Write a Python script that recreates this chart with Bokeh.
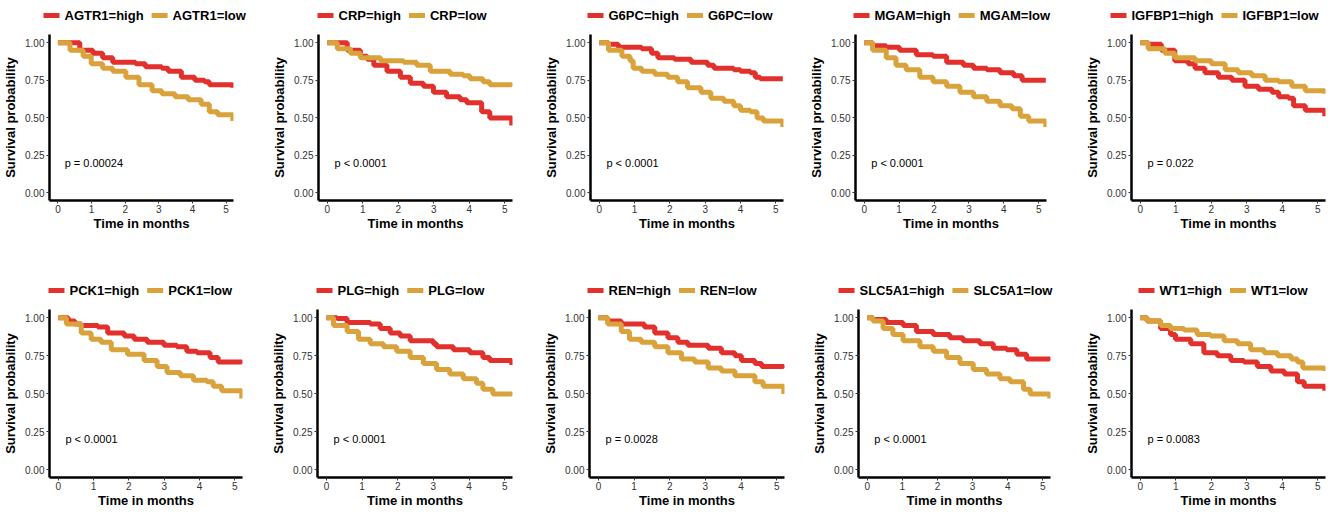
from bokeh.plotting import figure
from bokeh.layouts import column, row
from bokeh.models import Label, FixedTicker, NumeralTickFormatter, Range1d
from bokeh.core.properties import value
from bokeh.embed import file_html
from bokeh.resources import INLINE

# ---------------- data ----------------
genes = ["AGTR1", "CRP", "G6PC", "MGAM", "IGFBP1", "PCK1", "PLG", "REN", "SLC5A1", "WT1"]
pvals = ["p = 0.00024", "p < 0.0001", "p < 0.0001", "p < 0.0001", "p = 0.022",
         "p < 0.0001", "p < 0.0001", "p = 0.0028", "p < 0.0001", "p = 0.0083"]
x_ticks = [0, 1, 2, 3, 4, 5]
y_ticks = [0.0, 0.25, 0.5, 0.75, 1.0]

agtr1_high_t = [0, 0.65, 1.04, 1.33, 1.63, 2.31, 2.6, 3.09, 3.28, 3.67, 4.07, 4.36, 4.5, 5.2]
agtr1_high_s = [1, 0.95, 0.93, 0.90, 0.87, 0.86, 0.84, 0.83, 0.81, 0.77, 0.75, 0.74, 0.72, 0.70]
agtr1_low_t = [0, 0.36, 0.75, 0.99, 1.33, 1.63, 2.02, 2.41, 2.8, 3.09, 3.48, 3.87, 4.26, 4.5, 4.75, 5.2]
agtr1_low_s = [1, 0.95, 0.91, 0.86, 0.83, 0.81, 0.77, 0.72, 0.68, 0.66, 0.64, 0.62, 0.59, 0.54, 0.52, 0.48]

crp_high_t = [0, 0.56, 0.93, 1.12, 1.31, 1.68, 2.06, 2.34, 2.71, 2.99, 3.36, 3.74, 3.93, 4.35, 4.58, 5.2]
crp_high_s = [1, 0.95, 0.91, 0.89, 0.85, 0.81, 0.77, 0.73, 0.71, 0.67, 0.64, 0.62, 0.60, 0.54, 0.50, 0.45]
crp_low_t = [0, 0.28, 0.65, 0.93, 1.5, 2.15, 2.52, 2.9, 3.46, 3.83, 4.02, 4.39, 4.58, 5.2]
crp_low_s = [1, 0.96, 0.93, 0.90, 0.88, 0.87, 0.85, 0.81, 0.79, 0.78, 0.76, 0.74, 0.72, 0.71]

g6pc_high_t = [0, 0.26, 0.54, 1.2, 1.48, 1.66, 2.13, 2.6, 3.07, 3.25, 3.81, 4.0, 4.28, 4.42, 4.56, 5.2]
g6pc_high_s = [1, 0.99, 0.97, 0.96, 0.93, 0.90, 0.89, 0.87, 0.85, 0.83, 0.82, 0.81, 0.80, 0.77, 0.76, 0.76]
g6pc_low_t = [0, 0.26, 0.64, 0.87, 0.96, 1.2, 1.57, 1.94, 2.22, 2.5, 2.88, 3.16, 3.53, 3.81, 4.0, 4.28, 4.47, 4.65, 5.2]
g6pc_low_s = [1, 0.95, 0.91, 0.88, 0.83, 0.81, 0.79, 0.77, 0.74, 0.70, 0.67, 0.63, 0.61, 0.58, 0.55, 0.54, 0.50, 0.48, 0.44]

mgam_high_t = [0, 0.24, 0.63, 1.01, 1.49, 1.97, 2.36, 2.84, 3.13, 3.51, 3.89, 4.28, 4.52, 5.2]
mgam_high_s = [1, 0.98, 0.97, 0.95, 0.92, 0.91, 0.87, 0.85, 0.83, 0.82, 0.80, 0.78, 0.75, 0.75]
mgam_low_t = [0, 0.24, 0.63, 0.91, 1.2, 1.59, 1.97, 2.36, 2.74, 3.13, 3.51, 3.89, 4.23, 4.47, 4.71, 5.2]
mgam_low_s = [1, 0.95, 0.90, 0.85, 0.82, 0.77, 0.74, 0.71, 0.67, 0.64, 0.61, 0.58, 0.56, 0.51, 0.48, 0.44]

igfbp1_high_t = [0, 0.22, 0.59, 0.97, 1.35, 1.54, 1.82, 2.2, 2.58, 2.95, 3.33, 3.71, 3.9, 4.18, 4.32, 4.65, 5.2]
igfbp1_high_s = [1, 0.99, 0.95, 0.88, 0.86, 0.83, 0.80, 0.77, 0.75, 0.71, 0.69, 0.67, 0.64, 0.63, 0.58, 0.55, 0.51]
igfbp1_low_t = [0, 0.22, 0.69, 0.97, 1.54, 2.0, 2.39, 2.76, 3.14, 3.52, 3.9, 4.27, 4.65, 5.2]
igfbp1_low_s = [1, 0.96, 0.93, 0.90, 0.88, 0.86, 0.82, 0.80, 0.78, 0.75, 0.74, 0.71, 0.68, 0.66]

pck1_high_t = [0, 0.28, 0.47, 0.65, 1.12, 1.4, 1.87, 2.15, 2.52, 2.99, 3.36, 3.64, 3.93, 4.3, 4.53, 5.2]
pck1_high_s = [1, 0.98, 0.96, 0.95, 0.94, 0.90, 0.88, 0.86, 0.84, 0.82, 0.81, 0.78, 0.77, 0.74, 0.71, 0.70]
pck1_low_t = [0, 0.23, 0.65, 0.93, 1.21, 1.5, 1.96, 2.43, 2.8, 3.08, 3.46, 3.83, 4.21, 4.39, 4.63, 5.2]
pck1_low_s = [1, 0.96, 0.90, 0.86, 0.84, 0.79, 0.76, 0.72, 0.68, 0.64, 0.62, 0.59, 0.58, 0.55, 0.52, 0.47]

plg_high_t = [0, 0.3, 0.58, 1.23, 1.51, 1.79, 2.07, 2.35, 3.0, 3.09, 3.56, 4.02, 4.39, 4.58, 5.2]
plg_high_s = [1, 0.995, 0.97, 0.96, 0.93, 0.90, 0.88, 0.85, 0.83, 0.81, 0.79, 0.77, 0.74, 0.72, 0.69]
plg_low_t = [0, 0.2, 0.58, 0.9, 1.23, 1.6, 1.97, 2.35, 2.72, 3.09, 3.46, 3.84, 4.21, 4.39, 4.67, 5.2]
plg_low_s = [1, 0.95, 0.91, 0.86, 0.83, 0.81, 0.78, 0.74, 0.70, 0.66, 0.63, 0.60, 0.57, 0.53, 0.50, 0.49]

ren_high_t = [0, 0.26, 0.64, 1.29, 1.58, 1.95, 2.23, 2.51, 3.08, 3.45, 3.83, 4.01, 4.39, 4.58, 5.2]
ren_high_s = [1, 0.98, 0.96, 0.94, 0.90, 0.87, 0.84, 0.82, 0.80, 0.77, 0.75, 0.72, 0.70, 0.68, 0.67]
ren_low_t = [0, 0.26, 0.64, 0.87, 1.2, 1.58, 1.95, 2.33, 2.7, 3.08, 3.45, 3.83, 4.39, 4.62, 5.2]
ren_low_s = [1, 0.96, 0.91, 0.86, 0.84, 0.81, 0.77, 0.73, 0.71, 0.67, 0.65, 0.62, 0.58, 0.55, 0.50]

slc5a1_high_t = [0, 0.16, 0.54, 1.02, 1.4, 1.88, 2.35, 2.73, 3.21, 3.59, 3.97, 4.26, 4.54, 5.2]
slc5a1_high_s = [1, 0.99, 0.97, 0.95, 0.91, 0.89, 0.87, 0.85, 0.83, 0.80, 0.79, 0.76, 0.73, 0.72]
slc5a1_low_t = [0, 0.16, 0.45, 0.73, 1.02, 1.5, 1.88, 2.26, 2.64, 3.02, 3.4, 3.78, 4.07, 4.45, 4.64, 5.2]
slc5a1_low_s = [1, 0.98, 0.93, 0.89, 0.85, 0.81, 0.78, 0.74, 0.70, 0.66, 0.63, 0.60, 0.58, 0.53, 0.50, 0.47]

wt1_high_t = [0, 0.19, 0.57, 0.85, 0.99, 1.42, 1.79, 2.17, 2.55, 2.92, 3.3, 3.68, 4.06, 4.43, 4.62, 5.2]
wt1_high_s = [1, 0.98, 0.93, 0.89, 0.86, 0.83, 0.77, 0.75, 0.72, 0.71, 0.68, 0.65, 0.63, 0.58, 0.55, 0.52]
wt1_low_t = [0, 0.19, 0.57, 0.85, 1.23, 1.6, 1.98, 2.36, 2.74, 3.11, 3.49, 3.87, 4.25, 4.43, 4.58, 5.2]
wt1_low_s = [1, 0.98, 0.95, 0.93, 0.92, 0.89, 0.88, 0.85, 0.83, 0.79, 0.77, 0.75, 0.73, 0.71, 0.67, 0.65]

curves = [
    (agtr1_high_t, agtr1_high_s, agtr1_low_t, agtr1_low_s),
    (crp_high_t, crp_high_s, crp_low_t, crp_low_s),
    (g6pc_high_t, g6pc_high_s, g6pc_low_t, g6pc_low_s),
    (mgam_high_t, mgam_high_s, mgam_low_t, mgam_low_s),
    (igfbp1_high_t, igfbp1_high_s, igfbp1_low_t, igfbp1_low_s),
    (pck1_high_t, pck1_high_s, pck1_low_t, pck1_low_s),
    (plg_high_t, plg_high_s, plg_low_t, plg_low_s),
    (ren_high_t, ren_high_s, ren_low_t, ren_low_s),
    (slc5a1_high_t, slc5a1_high_s, slc5a1_low_t, slc5a1_low_s),
    (wt1_high_t, wt1_high_s, wt1_low_t, wt1_low_s),
]

# ---------------- style / layout ----------------
RED = "#E2302C"
GOLD = "#D9A23A"
FONT = "Liberation Sans"
LW = 5
LEG_FS = 13
TOTAL_W = 1339

fig_widths = [268, 268, 268, 268, 267]
legend_heights = [28, 44]          # strip holding a row of legends
plot_heights = [229, 214]          # figure holding each survival plot
borders_left = [[45, 50, 54, 51, 59], [49, 48, 53, 54, 59]]
borders_right = [[35, 24, 21, 26, 14], [26, 24, 20, 22, 14]]
borders_top = [6, 8]
borders_bottom = [57, 38]
legend_dx = [-2, -1, -3, -2, -21, -1, 0, -2, -20, 7]
legend_cy = [15, 33]               # legend centre, px below strip top

# Arial/Liberation Sans Bold advance widths (1/1000 em), for laying out the legend
BOLD_W = {"A": 722, "B": 722, "C": 722, "E": 667, "F": 611, "G": 778, "I": 278, "K": 722,
          "L": 611, "M": 833, "N": 722, "P": 667, "R": 722, "S": 667, "T": 611, "W": 944,
          "1": 556, "5": 556, "6": 556, "=": 584, "h": 611, "i": 278, "g": 611,
          "l": 278, "o": 611, "w": 778}


def text_w(s, fs):
    return sum(BOLD_W.get(ch, 600) for ch in s) * fs / 1000.0


def make_legend_strip(r):
    H = legend_heights[r]
    lf = figure(width=TOTAL_W, height=H, x_range=Range1d(0, TOTAL_W), y_range=Range1d(0, H),
                x_axis_type=None, y_axis_type=None,
                output_backend="svg", toolbar_location=None,
                min_border_left=0, min_border_right=0, min_border_top=0, min_border_bottom=0)
    lf.grid.visible = False
    lf.outline_line_color = None
    cy = H - legend_cy[r]
    for c in range(5):
        i = r * 5 + c
        gene = genes[i]
        x = sum(fig_widths[:c]) + borders_left[r][c] + legend_dx[i]
        for lab, col in ((f"{gene}=high", RED), (f"{gene}=low", GOLD)):
            lf.segment(x0=[x], y0=[cy], x1=[x + 16], y1=[cy], line_color=col, line_width=LW)
            lf.text(x=[x + 21], y=[cy], text=[lab], text_baseline="middle", text_align="left",
                    text_font=value(FONT), text_font_style="bold",
                    text_font_size=f"{LEG_FS}px", text_color="black")
            x += 21 + text_w(lab, LEG_FS) + 8
    return lf


def make_panel(i):
    r, c = divmod(i, 5)
    ht, hs, lt, ls = curves[i]
    p = figure(width=fig_widths[c], height=plot_heights[r],
               x_range=Range1d(-0.25, 5.22), y_range=Range1d(-0.05, 1.055),
               output_backend="svg", toolbar_location=None,
               min_border_left=borders_left[r][c], min_border_right=borders_right[r][c],
               min_border_top=borders_top[r], min_border_bottom=borders_bottom[r])
    p.grid.visible = False
    p.outline_line_color = None

    p.step(ht, hs, mode="after", line_color=RED, line_width=LW)
    p.step(lt, ls, mode="after", line_color=GOLD, line_width=LW)

    p.add_layout(Label(x=0.2, y=0.2, text=pvals[i], text_baseline="middle",
                       text_align="left", text_font=FONT, text_font_size="11px",
                       text_color="black"))

    p.xaxis.ticker = FixedTicker(ticks=x_ticks)
    p.yaxis.ticker = FixedTicker(ticks=y_ticks)
    p.yaxis.formatter = NumeralTickFormatter(format="0.00")
    p.xaxis.axis_label = "Time in months"
    p.yaxis.axis_label = "Survival probability"
    for ax in (p.xaxis, p.yaxis):
        ax.axis_line_width = 2.5
        ax.axis_line_color = "black"
        ax.major_tick_line_color = "#333333"
        ax.major_tick_line_width = 1
        ax.major_tick_out = 3
        ax.major_tick_in = 0
        ax.minor_tick_line_color = None
        ax.major_label_text_font = FONT
        ax.major_label_text_font_size = "10px"
        ax.major_label_text_color = "#333333"
        ax.axis_label_text_font = FONT
        ax.axis_label_text_font_style = "bold"
        ax.axis_label_text_font_size = "13px"
        ax.axis_label_text_color = "black"
    p.xaxis.major_label_standoff = 1
    p.xaxis.axis_label_standoff = 0
    p.yaxis.major_label_standoff = 2
    p.yaxis.axis_label_standoff = 4
    return p


panels = [make_panel(i) for i in range(10)]
layout = column(make_legend_strip(0), row(*panels[:5], spacing=0),
                make_legend_strip(1), row(*panels[5:], spacing=0), spacing=0)

open("out.html", "w").write(file_html(layout, INLINE))
